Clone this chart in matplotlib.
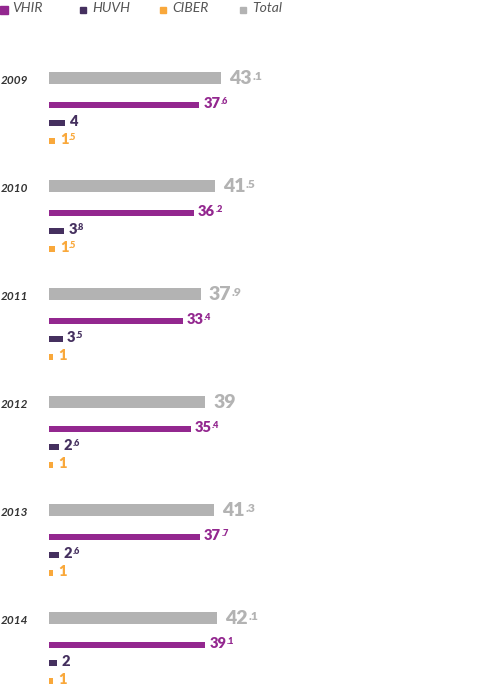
import matplotlib
matplotlib.use("Agg")
import matplotlib.pyplot as plt

plt.rcParams["font.family"] = ["Lato", "DejaVu Sans"]

# datos
anios = ["2009", "2010", "2011", "2012", "2013", "2014"]
total = [43.1, 41.5, 37.9, 39, 41.3, 42.1]
vhir = [37.6, 36.2, 33.4, 35.4, 37.7, 39.1]
huvh = [4, 3.8, 3.5, 2.6, 2.6, 2]
ciber = [1.5, 1.5, 1, 1, 1, 1]

c_total = "#b3b3b3"
c_vhir = "#93278f"
c_huvh = "#45305f"
c_ciber = "#f9a83b"

W, H = 482, 688
px = 4.0          # pixeles por unidad
x0 = 49           # inicio de las barras

fig = plt.figure(figsize=(W / 100, H / 100), dpi=100)
ax = fig.add_axes([0, 0, 1, 1])
ax.set_xlim(-x0 / px, (W - x0) / px)
ax.set_ylim(H, 0)
ax.axis("off")

series = [
    (total, c_total, 0, 12, 14, 8),
    (vhir, c_vhir, 27, 6, 10.5, 4),
    (huvh, c_huvh, 45, 6, 10.5, 4),
    (ciber, c_ciber, 62.5, 6, 10.5, 5),
]

etiquetas = []
for i, anio in enumerate(anios):
    yc = 78 + 108 * i
    ax.annotate(anio, xy=(0, yc + 3), xycoords=("axes fraction", "data"),
                xytext=(1, 0), textcoords="offset pixels",
                ha="left", va="center", fontsize=8.5, fontstyle="italic",
                fontweight="bold", color="#333333")
    for vals, color, dy, h, fs, gap in series:
        v = vals[i]
        y = yc + dy
        ax.barh(y, v, height=h, left=0, color=color)
        txt = f"{v:g}"
        if "." in txt:
            ent, dec = txt.split(".")
            dec = "." + dec
        else:
            ent, dec = txt, ""
        t = ax.annotate(ent, xy=(v, y + h / 2), xytext=(gap, 0),
                        textcoords="offset pixels", ha="left", va="baseline",
                        fontsize=fs, fontweight="heavy", color=color)
        etiquetas.append((t, dec, fs, color))

# leyenda
leyenda = [("VHIR", c_vhir, 0, 8), ("HUVH", c_huvh, 80, 6),
           ("CIBER", c_ciber, 160, 6), ("Total", c_total, 240, 6)]
for nombre, color, lx, s in leyenda:
    fig.patches.append(plt.Rectangle((lx / W, 1 - (10 + s / 2) / H), s / W, s / H,
                                     transform=fig.transFigure, color=color))
    fig.text((lx + 12) / W, 1 - 8 / H, nombre, ha="left", va="center",
             fontsize=10, fontstyle="italic", color="#555555")

# decimales como superindice
fig.canvas.draw()
r = fig.canvas.get_renderer()
for t, dec, fs, color in etiquetas:
    if not dec:
        continue
    bb = t.get_window_extent(renderer=r)
    fig.text((bb.x1 + 0.5) / W, (bb.y1 - 0.5) / H, dec, ha="left", va="top",
             fontsize=fs * 0.62, fontweight="heavy", color=color)

fig.savefig("out.png", dpi=100)
